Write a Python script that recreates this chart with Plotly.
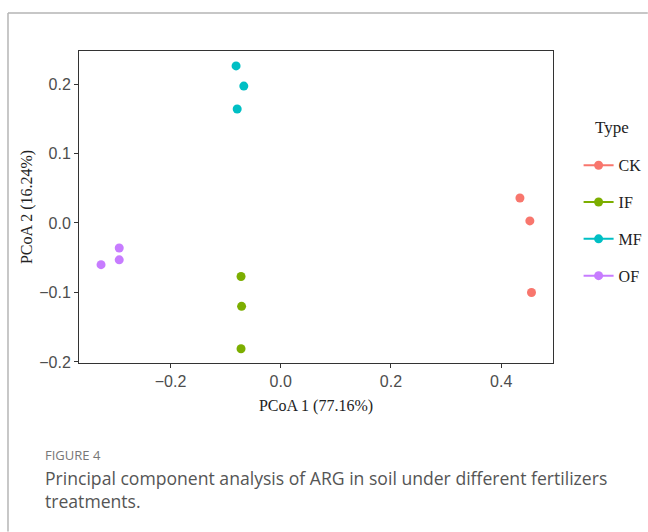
import plotly.graph_objects as go

groups = ["CK", "IF", "MF", "OF"]
colors = ["#F8766D", "#7CAE00", "#00BFC4", "#C77CFF"]
pc1 = {
    "CK": [0.434, 0.452, 0.455],
    "IF": [-0.072, -0.071, -0.072],
    "MF": [-0.081, -0.067, -0.079],
    "OF": [-0.326, -0.293, -0.293],
}
pc2 = {
    "CK": [0.036, 0.003, -0.100],
    "IF": [-0.077, -0.120, -0.181],
    "MF": [0.226, 0.197, 0.164],
    "OF": [-0.060, -0.036, -0.053],
}
x_ticks = [-0.2, 0.0, 0.2, 0.4]
y_ticks = [-0.2, -0.1, 0.0, 0.1, 0.2]

fig = go.Figure()
for g, c in zip(groups, colors):
    fig.add_trace(go.Scatter(
        x=pc1[g], y=pc2[g], mode="markers", name=g,
        marker=dict(color=c, size=9), showlegend=False, legendgroup=g))
    fig.add_trace(go.Scatter(
        x=[None], y=[None], mode="lines+markers", name=g,
        marker=dict(color=c, size=9), line=dict(color=c, width=2),
        showlegend=True, legendgroup=g))

axis_common = dict(
    showgrid=False, zeroline=False, showline=True, mirror=True,
    linecolor="#333333", linewidth=1, ticks="outside", ticklen=4,
    tickcolor="#333333", tickfont=dict(family="Liberation Sans, Arial", size=16, color="#4d4d4d"),
)
serif = "Liberation Serif, Times New Roman"

fig.update_layout(
    width=648, height=532,
    margin=dict(l=79, r=95, t=51, b=169, autoexpand=False),
    paper_bgcolor="white", plot_bgcolor="white",
    xaxis=dict(range=[-0.366, 0.494], tickvals=x_ticks, tickformat=".1f",
               title=dict(text="PCoA 1 (77.16%)", standoff=10,
                          font=dict(family=serif, size=16, color="#222")),
               **axis_common),
    yaxis=dict(range=[-0.2015, 0.2475], tickvals=y_ticks, tickformat=".1f",
               title=dict(text="PCoA 2 (16.24%)", standoff=2,
                          font=dict(family=serif, size=16, color="#222")),
               **axis_common),
    legend=dict(
        font=dict(family=serif, size=16, color="#222"),
        x=1.054, xanchor="left", y=0.688, yanchor="top",
        tracegroupgap=13, bgcolor="rgba(0,0,0,0)", itemwidth=30,
    ),
    shapes=[
        dict(type="line", xref="paper", yref="paper", x0=-0.1498, x1=1.2, y0=1.1218, y1=1.1218,
             line=dict(color="#b5b5b5", width=1.5)),
        dict(type="line", xref="paper", yref="paper", x0=-0.1498, x1=-0.1498, y0=1.1218, y1=-0.54,
             line=dict(color="#b5b5b5", width=1.5)),
    ],
    annotations=[
        dict(text="Type", xref="paper", yref="paper", x=1.124, y=0.756,
             xanchor="center", yanchor="middle", showarrow=False,
             font=dict(family=serif, size=17, color="#222")),
        dict(text="FIGURE 4", xref="paper", yref="paper", x=-0.076, y=-0.295,
             xanchor="left", yanchor="middle", showarrow=False,
             font=dict(family="Open Sans", size=13, color="#777777")),
        dict(text="Principal component analysis of ARG in soil under different fertilizers<br>treatments.",
             xref="paper", yref="paper", x=-0.076, y=-0.325,
             xanchor="left", yanchor="top", align="left", showarrow=False,
             font=dict(family="Open Sans", size=17.6, color="#555555")),
    ],
)

fig.write_html("out.html")
